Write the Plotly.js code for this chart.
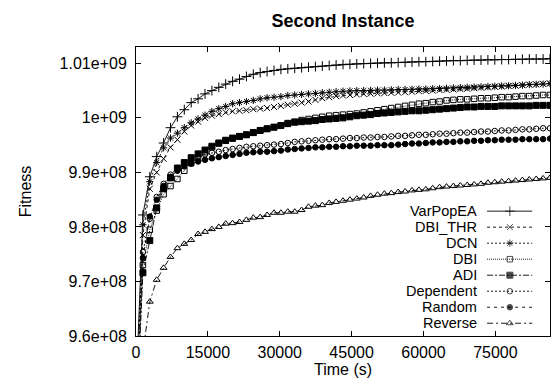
<!DOCTYPE html>
<html>
<head>
<meta charset="utf-8">
<script src="https://cdn.plot.ly/plotly-3.0.1.min.js"></script>
<style>html,body{margin:0;padding:0;background:#fff;}#chart{width:553px;height:385px;}</style>
</head>
<body>
<div id="chart"></div>
<script>
// Time in seconds
const times = [0,1440,2880,4320,5760,7200,8640,10080,11520,12960,14400,15840,17280,18720,20160,21600,23040,24480,25920,27360,28800,30240,31680,33120,34560,36000,37440,38880,40320,41760,43200,44640,46080,47520,48960,50400,51840,53280,54720,56160,57600,59040,60480,61920,63360,64800,66240,67680,69120,70560,72000,73440,74880,76320,77760,79200,80640,82080,83520,84960,86400];

// Fitness values, in millions (x 1e6)
const varPopEA = [950,982.2,989.2,992.9,995.4,998.2,1000.2,1001.5,1002.8,1003.5,1004.4,
  1005.0,1005.6,1006.2,1006.7,1007.1,1007.6,1008.0,1008.3,1008.5,1008.7,
  1008.9,1009.0,1009.1,1009.2,1009.3,1009.4,1009.5,1009.6,1009.7,1009.8,
  1009.85,1009.9,1009.95,1010.0,1010.05,1010.1,1010.1,1010.15,1010.2,1010.25,
  1010.3,1010.3,1010.35,1010.4,1010.45,1010.5,1010.5,1010.55,1010.6,1010.6,
  1010.65,1010.65,1010.7,1010.7,1010.75,1010.75,1010.8,1010.8,1010.8,1010.85];
const dbiThr = [945,978.5,987.0,990.0,992.5,994.6,996.0,997.5,998.6,999.3,1000.0,
  1000.4,1000.7,1001.0,1001.2,1001.3,1001.4,1001.6,1001.7,1001.8,1002.0,
  1002.2,1002.4,1002.6,1002.8,1003.0,1003.3,1003.6,1003.8,1004.0,1004.1,
  1004.2,1004.3,1004.4,1004.45,1004.5,1004.55,1004.6,1004.65,1004.7,1004.8,
  1004.9,1004.95,1005.0,1005.1,1005.15,1005.2,1005.3,1005.35,1005.45,1005.55,
  1005.6,1005.7,1005.75,1005.85,1005.9,1006.0,1006.1,1006.15,1006.25,1006.3];
const dcn = [948,980.4,988.3,991.8,994.5,996.3,997.2,998.2,999.1,999.8,1000.5,
  1001.2,1001.7,1002.1,1002.6,1002.8,1003.0,1003.2,1003.5,1003.7,1003.8,
  1003.9,1004.1,1004.2,1004.3,1004.4,1004.5,1004.6,1004.7,1004.8,1004.9,
  1004.95,1005.0,1005.0,1005.05,1005.1,1005.1,1005.15,1005.2,1005.2,1005.25,
  1005.3,1005.3,1005.35,1005.4,1005.45,1005.5,1005.55,1005.6,1005.65,1005.7,
  1005.75,1005.8,1005.85,1005.9,1005.95,1006.0,1006.1,1006.15,1006.2,1006.3];
const dbi = [944,973.0,979.5,983.0,986.0,987.5,988.8,990.3,991.7,992.8,993.7,
  994.6,995.3,995.8,996.2,996.6,996.9,997.3,997.7,998.0,998.3,
  998.6,998.9,999.3,999.6,999.8,1000.0,1000.2,1000.4,1000.5,1000.6,
  1000.7,1000.8,1001.0,1001.2,1001.4,1001.6,1001.8,1002.0,1002.2,1002.4,
  1002.6,1002.7,1002.9,1003.0,1003.2,1003.3,1003.4,1003.4,1003.5,1003.6,
  1003.6,1003.7,1003.8,1003.8,1003.9,1004.0,1004.0,1004.1,1004.2,1004.2];
const adi = [943,971.6,977.5,983.5,987.0,989.0,990.8,991.8,992.7,993.4,994.1,
  994.8,995.4,995.9,996.3,996.6,996.9,997.3,997.7,998.0,998.3,
  998.6,999.0,999.2,999.3,999.4,999.5,999.7,999.8,999.9,1000.0,
  1000.2,1000.4,1000.5,1000.6,1000.8,1000.9,1001.0,1001.1,1001.2,1001.3,
  1001.3,1001.4,1001.5,1001.6,1001.7,1001.8,1001.9,1002.0,1002.0,1002.1,
  1002.1,1002.1,1002.2,1002.2,1002.2,1002.2,1002.2,1002.3,1002.3,1002.3];
const dependent = [945,975.4,981.5,985.5,987.9,989.6,990.8,991.8,992.5,993.0,993.3,
  993.6,993.8,994.1,994.3,994.5,994.7,994.8,994.9,995.0,995.1,
  995.2,995.4,995.6,995.7,995.8,995.9,996.0,996.1,996.1,996.2,
  996.3,996.3,996.4,996.4,996.5,996.5,996.6,996.7,996.7,996.8,
  996.9,996.9,997.0,997.1,997.1,997.2,997.3,997.3,997.4,997.5,
  997.5,997.6,997.7,997.7,997.8,997.9,997.9,998.0,998.1,998.1];
const random = [945,974.3,981.9,985.0,987.5,989.2,990.3,991.1,991.6,992.0,992.3,
  992.6,992.8,993.0,993.2,993.4,993.6,993.7,993.8,993.8,993.9,
  994.0,994.2,994.3,994.4,994.5,994.6,994.6,994.7,994.7,994.8,
  994.8,994.9,994.9,994.9,995.0,995.0,995.0,995.1,995.2,995.3,
  995.3,995.4,995.5,995.5,995.6,995.6,995.7,995.7,995.8,995.8,
  995.9,995.9,996.0,996.0,996.0,996.1,996.1,996.1,996.1,996.2];
const reverse = [930,957.0,966.3,970.3,972.5,974.5,976.1,976.9,977.6,978.7,979.1,
  979.6,980.0,980.6,980.7,980.9,981.3,981.7,981.8,982.2,982.6,
  982.6,982.8,982.8,983.1,983.7,983.9,984.0,984.4,984.6,984.8,
  985.0,985.2,985.4,985.7,985.9,986.1,986.2,986.4,986.5,986.7,
  986.8,986.9,987.1,987.3,987.4,987.5,987.6,987.7,987.8,987.9,
  988.1,988.2,988.3,988.4,988.5,988.6,988.7,988.8,988.9,989.0];

const seriesNames = ['VarPopEA','DBI_THR','DCN','DBI','ADI','Dependent','Random','Reverse'];
const seriesValues = [varPopEA, dbiThr, dcn, dbi, adi, dependent, random, reverse];

const yTickVals = [960,970,980,990,1000,1010];
const yTickText = ['9.6e+08','9.7e+08','9.8e+08','9.9e+08','1e+09','1.01e+09'];
const xTickVals = [0,15000,30000,45000,60000,75000];
const xTickText = ['0','15000','30000','45000','60000','75000'];

// styles
const styles = [
  {dash:'solid', symbol:'cross-thin-open', size:7},
  {dash:'3px,3px', symbol:'x-thin-open', size:6},
  {dash:'2px,2px', symbol:'asterisk-open', size:6},
  {dash:'1px,1px', symbol:'square-open', size:5.5},
  {dash:'6px,2px,2px,2px', symbol:'square', size:6},
  {dash:'2px,2px', symbol:'circle-open', size:5.5},
  {dash:'3px,4px', symbol:'circle', size:5.5},
  {dash:'6px,3px,2px,3px', symbol:'triangle-up-open', size:6}
];

const FONT = 'Liberation Sans, Arial, sans-serif';
const traces = [];
seriesNames.forEach((name, i) => {
  const st = styles[i];
  traces.push({
    x: times, y: seriesValues[i], name: name, type: 'scatter', mode: 'lines+markers',
    line: {color: '#000', width: 0.9, dash: st.dash},
    marker: {symbol: st.symbol, size: st.size, color: '#000', line: {color: '#000', width: 1}},
    showlegend: false, hoverinfo: 'skip'
  });
});

// custom gnuplot-style key (text right-aligned, sample on the right)
const keyTop = 0.432, keyStep = 0.0554;
const keyX0 = 0.848, keyXm = 0.903, keyX1 = 0.957, keyTextX = 0.826;
const annotations = [];
seriesNames.forEach((name, i) => {
  const st = styles[i];
  const yy = keyTop - i * keyStep;
  traces.push({
    x: [keyX0, keyXm, keyX1], y: [yy, yy, yy], xaxis: 'x2', yaxis: 'y2',
    type: 'scatter', mode: 'lines+markers', showlegend: false, hoverinfo: 'skip',
    line: {color: '#000', width: 0.9, dash: st.dash},
    marker: {symbol: st.symbol, size: [0, st.size, 0], color: '#000', line: {color: '#000', width: 1}}
  });
  annotations.push({
    xref: 'paper', yref: 'paper', x: keyTextX, y: yy, xanchor: 'right', yanchor: 'middle',
    text: name, showarrow: false, borderpad: 0, font: {family: FONT, size: 14.5, color: '#000'}
  });
});

const layout = {
  width: 553, height: 385,
  margin: {l: 136, r: 3, t: 47, b: 49},
  paper_bgcolor: '#fff', plot_bgcolor: '#fff',
  font: {family: FONT, size: 16, color: '#000'},
  title: {text: '<b>Second Instance</b>', font: {family: FONT, size: 18, color: '#000'},
          xref: 'paper', x: 0.5, xanchor: 'center', yref: 'container', y: 0.945, yanchor: 'middle'},
  xaxis: {
    range: [0, 86400], tickvals: xTickVals, ticktext: xTickText,
    ticks: 'inside', ticklen: 5, tickcolor: '#000', mirror: 'ticks',
    showline: true, linecolor: '#000', linewidth: 1, showgrid: false, zeroline: false,
    tickfont: {family: FONT, size: 16}, ticklabelstandoff: 2,
    title: {text: 'Time (s)', font: {family: FONT, size: 16}, standoff: 0}
  },
  yaxis: {
    range: [960, 1013], tickvals: yTickVals, ticktext: yTickText,
    ticks: 'inside', ticklen: 5, tickcolor: '#000', mirror: 'ticks',
    showline: true, linecolor: '#000', linewidth: 1, showgrid: false, zeroline: false,
    tickfont: {family: FONT, size: 16}, ticklabelstandoff: 5,
    title: {text: 'Fitness', font: {family: FONT, size: 16}, standoff: 24}
  },
  xaxis2: {overlaying: 'x', anchor: 'y2', range: [0, 1], visible: false, fixedrange: true},
  yaxis2: {overlaying: 'y', anchor: 'x2', range: [0, 1], visible: false, fixedrange: true},
  annotations: annotations,
  showlegend: false
};

Plotly.newPlot('chart', traces, layout, {staticPlot: true, displayModeBar: false});
</script>
</body>
</html>
